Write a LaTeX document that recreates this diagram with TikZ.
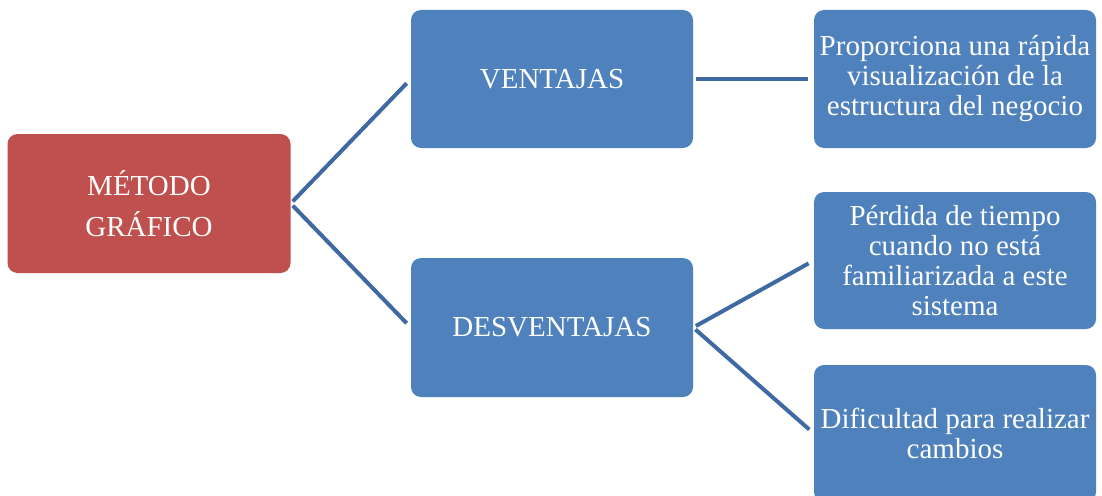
\documentclass[tikz,border=0pt]{standalone}
\usepackage{fontspec}
\setmainfont{Liberation Serif}
\definecolor{boxred}{HTML}{C0504D}
\definecolor{boxblue}{HTML}{4F81BD}
\definecolor{linkblue}{HTML}{3F69A3}
\begin{document}
\begin{tikzpicture}[x=1pt,y=-1pt,
  box/.style={rectangle, rounded corners=10pt, fill=boxblue, draw=none,
    minimum width=282pt, minimum height=138pt, align=center,
    text=white, inner sep=0pt, font=\fontsize{29}{30}\selectfont},
  redbox/.style={box, fill=boxred, minimum width=283pt, minimum height=139pt},
  link/.style={draw=linkblue, line width=4pt, shorten <=3pt, shorten >=6pt}]
\useasboundingbox (0,0) rectangle (1102,495);
\node[redbox] (metodo) at (149,203.5) {MÉTODO\\[11pt]GRÁFICO};
\node[box] (ventajas) at (552,79) {VENTAJAS};
\node[box, minimum height=139pt] (desv) at (552,327.5) {DESVENTAJAS};
\node[box] (r1) at (955,79) {Proporciona una rápida\\visualización de la\\estructura del negocio};
\node[box, minimum height=137pt] (r2) at (955,260.5) {Pérdida de tiempo\\cuando no está\\familiarizada a este\\sistema};
\node[box, minimum height=137pt] (r3) at (955,433.5) {Dificultad para realizar\\cambios};
\draw[link] (metodo.east) -- (ventajas.west);
\draw[link] (metodo.east) -- (desv.west);
\draw[link] (ventajas.east) -- (r1.west);
\draw[link] (desv.east) -- (r2.west);
\draw[link] (desv.east) -- (r3.west);
\end{tikzpicture}
\end{document}
